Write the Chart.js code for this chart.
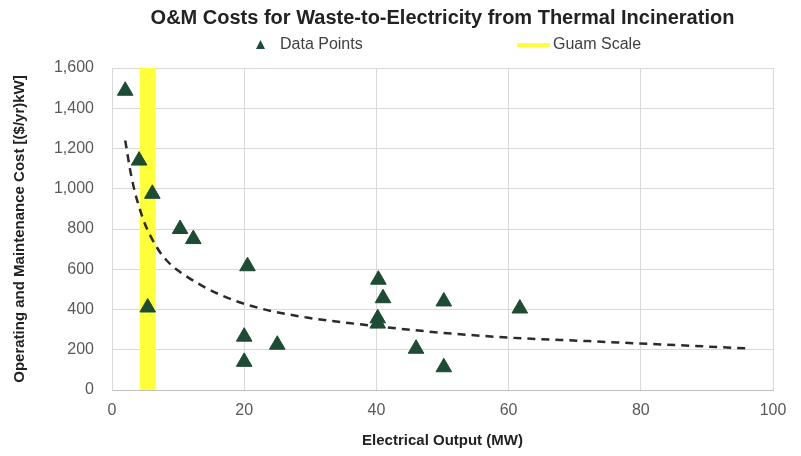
<!DOCTYPE html>
<html>
<head>
<meta charset="utf-8">
<title>O&amp;M Costs for Waste-to-Electricity</title>
<script src="https://cdn.jsdelivr.net/npm/chart.js@4.4.1/dist/chart.umd.min.js"></script>
<style>
  html, body { margin: 0; padding: 0; background: #fff; }
</style>
</head>
<body>
<canvas id="omChart" width="801" height="456"></canvas>
<script>
// plant data (MW, $/yr/kW)
const pointX = [2, 4.1, 6.1, 10.3, 12.3, 5.4, 20.5, 20, 20, 25, 40.3, 41, 40.2, 40.2, 46, 50.2, 50.2, 61.7];
const pointY = [1487, 1140, 975, 800, 750, 410, 615, 265, 140, 225, 548, 456, 356, 330, 205, 113, 440, 405];

// dashed trend curve
const trendX = [2, 3, 4.7, 6.8, 8.5, 10.8, 16.3, 22.4, 29.5, 35.8, 48, 60.2, 72, 84, 96];
const trendY = [1240, 1050, 850, 708, 636, 575, 474, 406, 360, 333, 290, 260, 243, 225, 207];

// Guam scale marker
const guamX = [5.4, 5.4];
const guamY = [0, 1600];

const seriesNames = ['Data Points', 'Guam Scale'];
const xTicks = [0, 20, 40, 60, 80, 100];
const yTicks = [0, 200, 400, 600, 800, 1000, 1200, 1400, 1600];

const FONT = "'Liberation Sans', Arial, sans-serif";
const green = '#1d4b33';
const yellow = '#ffff3a';
const gridGrey = '#d9d9d9';
const tickGrey = '#595959';
const titleColor = '#222222';

Chart.defaults.font.family = FONT;

const toXY = (xs, ys) => xs.map((x, i) => ({ x: x, y: ys[i] }));

// legend drawn by hand so it can keep the wide spacing of the original
const wideLegend = {
  id: 'wideLegend',
  afterDraw(chart) {
    const ctx = chart.ctx;
    const y = 45;
    ctx.save();
    ctx.fillStyle = green;
    ctx.beginPath();
    ctx.moveTo(260.5, y - 5);
    ctx.lineTo(265, y + 4);
    ctx.lineTo(256, y + 4);
    ctx.closePath();
    ctx.fill();

    ctx.strokeStyle = yellow;
    ctx.lineWidth = 4;
    ctx.beginPath();
    ctx.moveTo(517, y);
    ctx.lineTo(550, y);
    ctx.stroke();

    ctx.font = '16px ' + FONT;
    ctx.fillStyle = '#404040';
    ctx.textBaseline = 'middle';
    ctx.fillText(seriesNames[0], 280, y);
    ctx.fillText(seriesNames[1], 553, y);
    ctx.restore();
  }
};

new Chart(document.getElementById('omChart'), {
  data: {
    datasets: [
      {
        type: 'scatter',
        label: seriesNames[0],
        data: toXY(pointX, pointY),
        pointStyle: 'triangle',
        pointRadius: 9,
        backgroundColor: green,
        borderColor: green,
        borderWidth: 1,
        order: 0
      },
      {
        type: 'line',
        label: 'Trend',
        data: toXY(trendX, trendY),
        borderColor: '#2b2b2b',
        borderWidth: 2.5,
        borderDash: [8, 6],
        pointRadius: 0,
        fill: false,
        cubicInterpolationMode: 'monotone',
        order: 1
      },
      {
        type: 'line',
        label: seriesNames[1],
        data: toXY(guamX, guamY),
        borderColor: yellow,
        borderWidth: 16,
        borderCapStyle: 'butt',
        pointRadius: 0,
        fill: false,
        order: 2
      }
    ]
  },
  options: {
    responsive: false,
    animation: false,
    events: [],
    layout: { padding: { top: 0, right: 28, bottom: 0, left: 0 } },
    plugins: {
      legend: { display: false },
      tooltip: { enabled: false },
      title: {
        display: true,
        fullSize: false,
        text: 'O&M Costs for Waste-to-Electricity from Thermal Incineration',
        color: titleColor,
        font: { size: 20, weight: 'bold' },
        padding: { top: 6, bottom: 38 }
      }
    },
    scales: {
      x: {
        type: 'linear',
        min: 0,
        max: 100,
        afterBuildTicks: (scale) => { scale.ticks = xTicks.map(v => ({ value: v })); },
        afterFit: (scale) => { scale.height = 66; },
        grid: { color: gridGrey, drawTicks: false },
        border: { color: '#bfbfbf' },
        ticks: { color: tickGrey, font: { size: 16 }, padding: 11 },
        title: {
          display: true,
          text: 'Electrical Output (MW)',
          color: titleColor,
          font: { size: 15, weight: 'bold' },
          padding: { top: 0, bottom: 6 }
        }
      },
      y: {
        type: 'linear',
        min: 0,
        max: 1600,
        afterBuildTicks: (scale) => { scale.ticks = yTicks.map(v => ({ value: v })); },
        afterFit: (scale) => { scale.width = 112; },
        grid: { color: gridGrey, drawTicks: false },
        border: { color: gridGrey },
        ticks: {
          color: tickGrey,
          font: { size: 16 },
          padding: 18,
          callback: (v) => v.toLocaleString('en-US')
        },
        title: {
          display: true,
          text: 'Operating and Maintenance Cost [($/yr)kW]',
          color: titleColor,
          font: { size: 15, weight: 'bold' },
          padding: { top: 11, bottom: 0 }
        }
      }
    }
  },
  plugins: [wideLegend]
});
</script>
</body>
</html>
